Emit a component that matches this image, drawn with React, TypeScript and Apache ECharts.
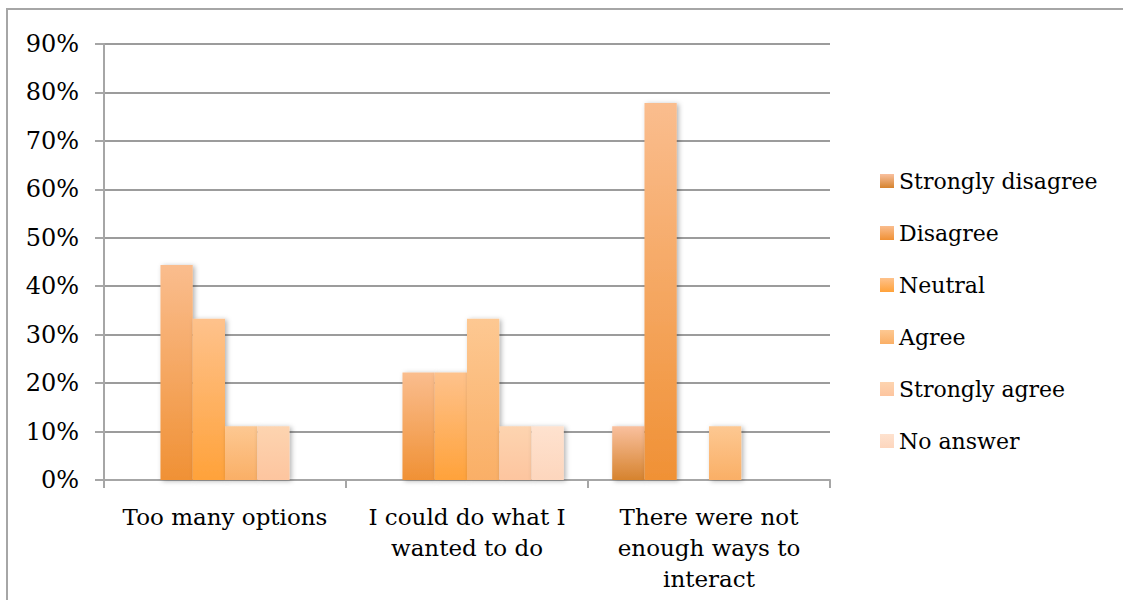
import React, { useEffect, useRef } from "react";
import * as echarts from "echarts";

const categories = [
  "Too many options",
  "I could do what I\nwanted to do",
  "There were not\nenough ways to\ninteract",
];
const seriesNames = ["Strongly disagree", "Disagree", "Neutral", "Agree", "Strongly agree", "No answer"];
const stronglyDisagree = [0, 0, 11.1];
const disagree = [44.4, 22.2, 77.8];
const neutral = [33.3, 22.2, 0];
const agree = [11.1, 33.3, 11.1];
const stronglyAgree = [11.1, 11.1, 0];
const noAnswer = [0, 11.1, 0];
const yTicks = [0, 10, 20, 30, 40, 50, 60, 70, 80, 90];

const gradients: [string, string][] = [
  ["#F9C09E", "#D6832E"],
  ["#FABD8E", "#F09135"],
  ["#FEC28C", "#FFA23A"],
  ["#FDC892", "#FAAF66"],
  ["#FDD4B0", "#FDC59F"],
  ["#FEE2CF", "#FDD6BD"],
];

const FONT = "DejaVu Serif";

export default function App() {
  const ref = useRef<HTMLDivElement>(null);
  useEffect(() => {
    if (!ref.current) return;
    const chart = echarts.init(ref.current, undefined, { renderer: "svg" });
    const allData = [stronglyDisagree, disagree, neutral, agree, stronglyAgree, noAnswer];
    const grad = (i: number) =>
      new echarts.graphic.LinearGradient(0, 0, 0, 1, [
        { offset: 0, color: gradients[i][0] },
        { offset: 1, color: gradients[i][1] },
      ]);
    chart.setOption({
      animation: false,
      backgroundColor: "#ffffff",
      graphic: [
        {
          type: "rect",
          shape: { x: 7, y: 9, width: 1130, height: 610 },
          style: { fill: "none", stroke: "#A6A6A6", lineWidth: 2 },
          silent: true,
        },
      ],
      grid: { left: 104, right: 293, top: 44, bottom: 120, containLabel: false },
      legend: {
        orient: "vertical",
        left: 880,
        top: 170,
        padding: 0,
        itemWidth: 14,
        itemHeight: 14,
        itemGap: 30,
        icon: "rect",
        textStyle: { fontFamily: FONT, fontSize: 22, color: "#000" },
        data: seriesNames,
      },
      xAxis: {
        type: "category",
        data: categories,
        boundaryGap: true,
        axisLine: { lineStyle: { color: "#A6A6A6", width: 2 } },
        axisTick: { show: true, length: 8, lineStyle: { color: "#A6A6A6", width: 2 } },
        axisLabel: {
          fontFamily: FONT,
          fontSize: 23,
          color: "#000",
          margin: 21,
          lineHeight: 31,
          interval: 0,
        },
      },
      yAxis: {
        type: "value",
        min: 0,
        max: 90,
        interval: 10,
        axisLine: { show: true, lineStyle: { color: "#A6A6A6", width: 2 } },
        axisTick: { show: true, length: 9, lineStyle: { color: "#A6A6A6", width: 2 } },
        splitLine: { lineStyle: { color: "#9C9C9C", width: 2 } },
        axisLabel: {
          fontFamily: FONT,
          fontSize: 24,
          color: "#000",
          margin: 25,
          formatter: (v: number) => (yTicks.includes(v) ? v + "%" : ""),
        },
      },
      series: seriesNames.map((name, i) => ({
        name,
        type: "bar",
        data: allData[i],
        barGap: "0%",
        barCategoryGap: "20%",
        itemStyle: {
          color: grad(i),
          shadowColor: "rgba(0,0,0,0.3)",
          shadowBlur: 5,
          shadowOffsetX: 2,
          shadowOffsetY: 1,
        },
      })),
    });
    return () => chart.dispose();
  }, []);
  return (
    <div
      ref={ref}
      style={{ position: "absolute", left: 0, top: 0, width: 1123, height: 600 }}
    />
  );
}
